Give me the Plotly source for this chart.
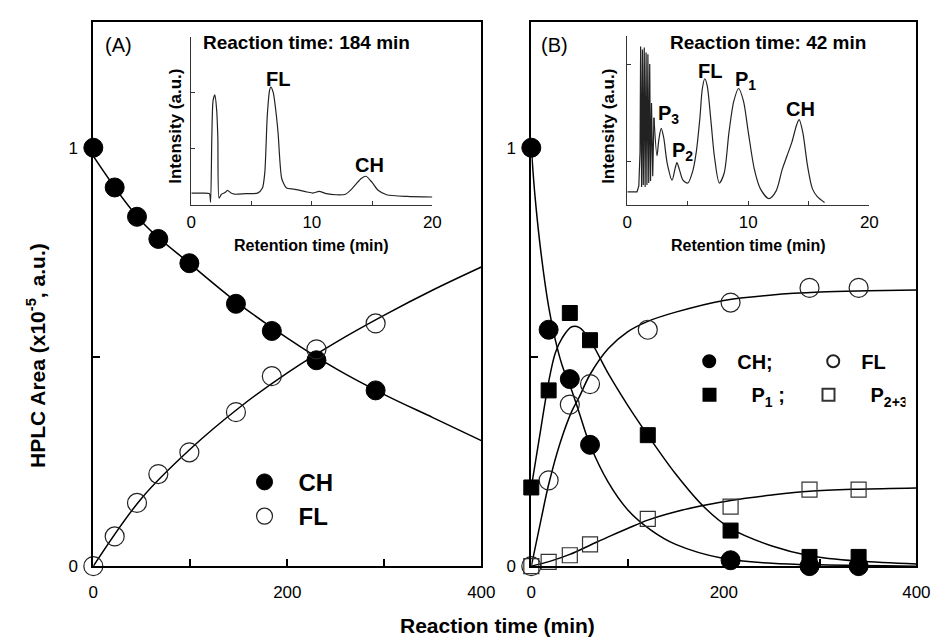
import plotly.graph_objects as go

# ---------------- data: panel A ----------------
tA = [0, 22, 45, 67, 99, 147, 184, 230, 291]
CH_A = [1.0, 0.905, 0.835, 0.782, 0.724, 0.627, 0.562, 0.492, 0.420]
FL_A = [0.0, 0.071, 0.151, 0.220, 0.272, 0.368, 0.454, 0.518, 0.580]

fitA_t = [0, 50, 100, 150, 200, 250, 300, 350, 400]
CH_A_fit = [0.98, 0.823, 0.722, 0.627, 0.545, 0.472, 0.410, 0.355, 0.300]
FL_A_fit = [0.0, 0.163, 0.280, 0.378, 0.462, 0.535, 0.600, 0.660, 0.715]

# ---------------- data: panel B ----------------
tB = [0, 18, 40, 61, 121, 207, 289, 340]
tB_CH = [0, 18, 40, 61, 207, 289, 340]
CH_B = [1.0, 0.565, 0.447, 0.290, 0.014, 0.0, 0.0]
P1_B = [0.188, 0.420, 0.605, 0.540, 0.313, 0.085, 0.022, 0.022]
FL_B = [0.0, 0.205, 0.386, 0.435, 0.565, 0.630, 0.665, 0.665]
P23_B = [0.0, 0.010, 0.026, 0.052, 0.113, 0.142, 0.183, 0.183]

CH_B_fit_t = [0, 4, 10, 18, 25, 32, 42, 50, 61, 80, 100, 125, 150, 200, 250, 300, 400]
CH_B_fit = [1.0, 0.88, 0.75, 0.62, 0.54, 0.48, 0.42, 0.365, 0.29, 0.20, 0.135, 0.085, 0.052, 0.018, 0.007, 0.003, 0.0]
P1_B_fit_t = [0, 10, 18, 25, 32, 42, 50, 61, 80, 100, 121, 150, 180, 207, 250, 289, 340, 400]
P1_B_fit = [0.188, 0.33, 0.44, 0.51, 0.545, 0.572, 0.57, 0.54, 0.46, 0.385, 0.313, 0.22, 0.14, 0.09, 0.048, 0.025, 0.012, 0.005]
FL_B_fit_t = [0, 10, 18, 30, 42, 50, 61, 80, 100, 121, 150, 200, 250, 300, 350, 400]
FL_B_fit = [0.0, 0.11, 0.195, 0.295, 0.37, 0.405, 0.458, 0.52, 0.56, 0.585, 0.607, 0.635, 0.648, 0.655, 0.658, 0.66]
P23_B_fit_t = [0, 20, 40, 61, 80, 100, 121, 150, 181, 207, 250, 289, 340, 400]
P23_B_fit = [0.0, 0.012, 0.028, 0.05, 0.07, 0.09, 0.11, 0.13, 0.146, 0.157, 0.17, 0.179, 0.184, 0.187]

# ---------------- inset chromatograms ----------------
retA = [0, 1.0, 1.5, 1.6, 1.7, 1.8, 1.95, 2.1, 2.2, 2.3, 2.5, 2.8, 3.0, 3.3, 3.6, 4.5, 5.5, 5.9,
        6.1, 6.3, 6.5, 6.6, 6.8, 7.0, 7.2, 7.5, 7.9, 8.5, 9.6, 10.1, 10.6, 11.2, 12.0, 12.8,
        13.3, 13.7, 14.1, 14.5, 15.0, 15.5, 16.2, 17.9, 20.0]
intA = [0.21, 0.21, 0.20, 0.05, 1.20, 1.85, 1.96, 1.70, 1.20, 0.12, 0.19, 0.22, 0.26, 0.21, 0.19, 0.20, 0.21, 0.30,
        0.58, 1.58, 2.05, 2.10, 2.00, 1.70, 1.28, 0.47, 0.30, 0.28, 0.23, 0.21, 0.24, 0.20, 0.18, 0.19,
        0.28, 0.38, 0.47, 0.51, 0.40, 0.26, 0.18, 0.15, 0.14]

retB1 = [0, 0.8, 0.95, 1.05, 1.1, 1.18, 1.25, 1.32, 1.4, 1.47, 1.55, 1.62, 1.7, 1.77, 1.85, 1.92, 2.0, 2.1, 2.2]
intB1 = [0.69, 0.69, 0.75, 1.10, 2.18, 0.74, 2.15, 0.76, 2.17, 0.74, 2.12, 0.76, 2.10, 0.78, 2.00, 0.80, 1.60, 0.85, 1.45]
retB2 = [2.2, 2.45, 2.6, 2.8, 3.0, 3.3, 3.7, 3.95, 4.1, 4.3, 4.6, 5.0, 5.4, 5.7, 6.0, 6.2, 6.4, 6.6, 6.9,
         7.2, 7.6, 8.0, 8.4, 8.8, 9.2, 9.6, 10.0, 10.5, 11.0, 11.7, 12.3, 12.8, 13.2, 13.6, 14.0, 14.2,
         14.5, 14.9, 15.3, 15.7, 16.3]
intB2 = [1.45, 1.06, 1.22, 1.34, 1.25, 0.98, 0.81, 0.93, 0.99, 0.92, 0.81, 0.78, 0.90, 1.10, 1.45, 1.75, 1.85, 1.78, 1.43,
         1.05, 0.78, 0.88, 1.30, 1.62, 1.75, 1.62, 1.30, 0.92, 0.72, 0.62, 0.70, 0.92, 1.06, 1.20, 1.38, 1.43,
         1.30, 0.95, 0.72, 0.64, 0.58]

main_xticks = [0, 100, 200, 300, 400]
main_xticktext = ["0", "", "200", "", "400"]
main_yticks = [0, 0.5, 1]
main_yticktext = ["0", "", "1"]
inset_xticks = [0, 5, 10, 15, 20]
inset_xticktext = ["0", "", "10", "", "20"]

FONT = "Liberation Sans, Arial, Helvetica, sans-serif"
W, H = 940, 639


def px(x):
    return x / W


def py(y):
    return 1 - y / H


fig = go.Figure()

LW = 1.5
circ = 19
sq = 15

# ---- Panel A curves
fig.add_trace(go.Scatter(x=fitA_t, y=CH_A_fit, mode="lines", line=dict(color="black", width=LW, shape="spline"),
                         showlegend=False, xaxis="x", yaxis="y", hoverinfo="skip"))
fig.add_trace(go.Scatter(x=fitA_t, y=FL_A_fit, mode="lines", line=dict(color="black", width=LW, shape="spline"),
                         showlegend=False, xaxis="x", yaxis="y", hoverinfo="skip"))
fig.add_trace(go.Scatter(x=tA, y=CH_A, mode="markers", name="<b>CH</b>", legend="legend",
                         marker=dict(symbol="circle", size=circ, color="black", line=dict(color="black", width=1)),
                         cliponaxis=False, xaxis="x", yaxis="y"))
fig.add_trace(go.Scatter(x=tA, y=FL_A, mode="markers", name="<b>FL</b>", legend="legend",
                         marker=dict(symbol="circle-open", size=circ, color="#222", line=dict(color="#222", width=1.2)),
                         cliponaxis=False, xaxis="x", yaxis="y"))

# ---- Panel B curves
for tt, yy in [(CH_B_fit_t, CH_B_fit), (P1_B_fit_t, P1_B_fit), (FL_B_fit_t, FL_B_fit), (P23_B_fit_t, P23_B_fit)]:
    fig.add_trace(go.Scatter(x=tt, y=yy, mode="lines", line=dict(color="black", width=LW, shape="spline"),
                             showlegend=False, xaxis="x2", yaxis="y2", hoverinfo="skip"))

fig.add_trace(go.Scatter(x=tB_CH, y=CH_B, mode="markers", name="<b>CH;</b>", legend="legend2",
                         marker=dict(symbol="circle", size=circ, color="black", line=dict(color="black", width=1)),
                         cliponaxis=False, xaxis="x2", yaxis="y2"))
fig.add_trace(go.Scatter(x=tB, y=FL_B, mode="markers", name="<b>FL</b>", legend="legend2",
                         marker=dict(symbol="circle-open", size=circ, color="#222", line=dict(color="#222", width=1.2)),
                         cliponaxis=False, xaxis="x2", yaxis="y2"))
fig.add_trace(go.Scatter(x=tB, y=P1_B, mode="markers", name="<b>P<sub>1</sub> ;</b>", legend="legend3",
                         marker=dict(symbol="square", size=sq, color="black", line=dict(color="black", width=1)),
                         cliponaxis=False, xaxis="x2", yaxis="y2"))
fig.add_trace(go.Scatter(x=tB, y=P23_B, mode="markers", name="<b>P<sub>2+3</sub></b>", legend="legend3",
                         marker=dict(symbol="square-open", size=sq, color="#333", line=dict(color="#333", width=1.2)),
                         cliponaxis=False, xaxis="x2", yaxis="y2"))

# ---- insets
fig.add_trace(go.Scatter(x=retA, y=intA, mode="lines", line=dict(color="#222", width=1.2, shape="spline", smoothing=0.6),
                         showlegend=False, xaxis="x3", yaxis="y3", hoverinfo="skip"))
fig.add_trace(go.Scatter(x=retB1, y=intB1, mode="lines", line=dict(color="#222", width=1.2),
                         showlegend=False, xaxis="x4", yaxis="y4", hoverinfo="skip"))
fig.add_trace(go.Scatter(x=retB2, y=intB2, mode="lines", line=dict(color="#222", width=1.2, shape="spline", smoothing=0.8),
                         showlegend=False, xaxis="x4", yaxis="y4", hoverinfo="skip"))

main_ax = dict(showgrid=False, zeroline=False, showline=True, linecolor="black", linewidth=2, mirror=True,
               ticks="inside", ticklen=7, tickwidth=1.5, tickcolor="black",
               tickfont=dict(family=FONT, size=17, color="black"))
inset_ax = dict(showgrid=False, zeroline=False, showline=True, linecolor="#333", linewidth=1, mirror=False,
                ticks="inside", ticklen=4, tickwidth=1, tickcolor="#333",
                tickfont=dict(family=FONT, size=17, color="black"))

yd = [py(567), py(14)]
fig.update_layout(
    width=W, height=H, margin=dict(l=0, r=0, t=0, b=0),
    paper_bgcolor="white", plot_bgcolor="rgba(0,0,0,0)",
    font=dict(family=FONT, color="black"),
    xaxis=dict(domain=[px(82), px(478)], range=[0, 400], anchor="y", tickvals=main_xticks, ticktext=main_xticktext,
               ticklabelstandoff=9, **main_ax),
    yaxis=dict(domain=yd, range=[0, 1.301], anchor="x", tickvals=main_yticks, ticktext=main_yticktext,
               ticklabelstandoff=10, **main_ax),
    xaxis2=dict(domain=[px(529), px(922)], range=[0, 400], anchor="y2", tickvals=main_xticks, ticktext=main_xticktext,
                ticklabelstandoff=9, **main_ax),
    yaxis2=dict(domain=yd, range=[0, 1.301], anchor="x2", tickvals=main_yticks, ticktext=main_yticktext,
                ticklabelstandoff=10, **main_ax),
    xaxis3=dict(domain=[px(182), px(428)], range=[0, 20], anchor="y3", tickvals=inset_xticks,
                ticktext=inset_xticktext, ticklabelstandoff=2, **inset_ax),
    yaxis3=dict(domain=[py(200), py(29)], range=[0, 3], anchor="x3", tickvals=[1, 2, 3],
                showticklabels=False, **inset_ax),
    xaxis4=dict(domain=[px(627), px(874)], range=[0, 20], anchor="y4", tickvals=inset_xticks,
                ticktext=inset_xticktext, ticklabelstandoff=2, **inset_ax),
    yaxis4=dict(domain=[py(200), py(28)], range=[0.556, 2.293], anchor="x4", tickvals=[1, 2],
                showticklabels=False, **inset_ax),
    legend=dict(x=px(222), y=py(459), xanchor="left", yanchor="top", bgcolor="rgba(0,0,0,0)",
                font=dict(family=FONT, size=24, color="black"), tracegroupgap=0, itemwidth=58),
    legend2=dict(x=px(682), y=py(339), xanchor="left", yanchor="top", orientation="h", bgcolor="rgba(0,0,0,0)",
                 font=dict(family=FONT, size=20, color="black"), entrywidth=63, itemwidth=46,
                 itemsizing="constant"),
    legend3=dict(x=px(668), y=py(373), xanchor="left", yanchor="top", orientation="h", bgcolor="rgba(0,0,0,0)",
                 font=dict(family=FONT, size=20, color="black"), entrywidth=30, itemwidth=74,
                 itemsizing="constant"),
)


def ann(text, x, y, size, bold=True, angle=0, xanchor="center", yanchor="middle"):
    t = f"<b>{text}</b>" if bold else text
    fig.add_annotation(text=t, x=px(x), y=py(y), xref="paper", yref="paper", showarrow=False,
                       font=dict(family=FONT, size=size, color="black"), textangle=angle,
                       xanchor=xanchor, yanchor=yanchor)


ann("(A)", 108, 38, 20, bold=False)
ann("(B)", 553, 38, 20, bold=False)
ann("Reaction time: 184 min", 300, 35, 19)
ann("FL", 270, 72, 20)
ann("CH", 364, 160, 20)
ann("Reaction time: 42 min", 771, 35, 19)
ann("FL", 711, 64, 20)
ann("P<sub>1</sub>", 735, 74, 20, xanchor="left")
ann("P<sub>3</sub>", 656, 108, 20, xanchor="left")
ann("P<sub>2</sub>", 671, 146, 20, xanchor="left")
ann("CH", 804, 103, 20)
ann("Intensity (a.u.)", 165, 120, 17, angle=-90)
ann("Intensity (a.u.)", 607, 120, 17, angle=-90)
ann("Retention time (min)", 305, 241, 16)
ann("Retention time (min)", 751, 241, 16)
ann("HPLC Area (x10<sup>-5</sup>, a.u.)", 24, 353, 21, angle=-90)
ann("Reaction time (min)", 495, 627, 21)

fig.write_html("out.html")
